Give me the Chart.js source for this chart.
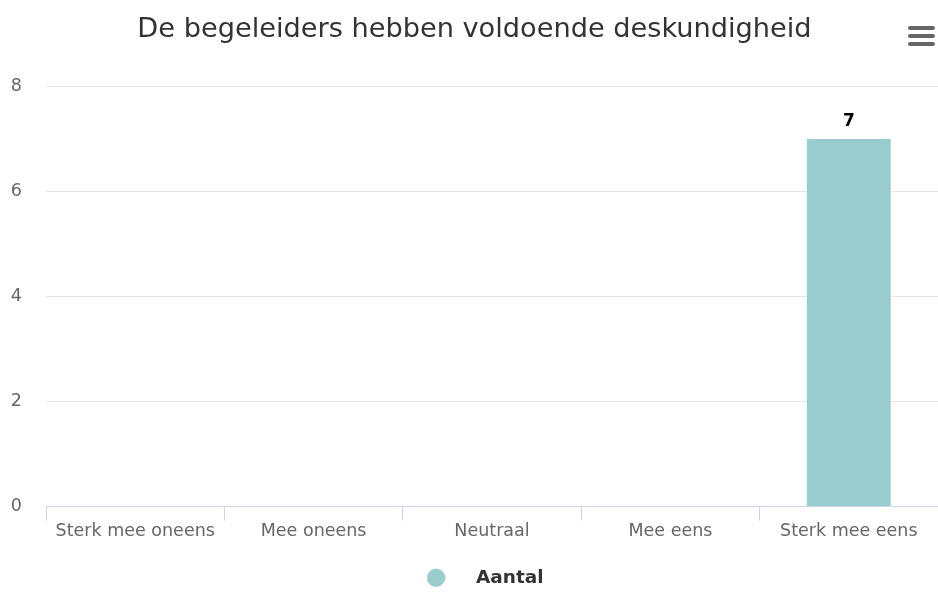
<!DOCTYPE html>
<html>
<head>
<meta charset="utf-8">
<script src="https://cdn.jsdelivr.net/npm/chart.js@4/dist/chart.umd.min.js"></script>
<style>
  body { margin: 0; background: #fff; }
  #wrap { position: relative; width: 938px; height: 597px; }
  .menu { position: absolute; left: 908px; top: 26px; width: 27px; }
  .menu span { display: block; height: 4px; margin-bottom: 4px; background: #666; border-radius: 2px; }
</style>
</head>
<body>
<div id="wrap">
  <canvas id="chart" width="938" height="597"></canvas>
  <div class="menu"><span></span><span></span><span></span></div>
</div>
<script>
var categories = ["Sterk mee oneens", "Mee oneens", "Neutraal", "Mee eens", "Sterk mee eens"];
var counts = [0, 0, 0, 0, 7];
var yTicks = [0, 2, 4, 6, 8];

var barColor = "#99cccc";
var font = "'DejaVu Sans', sans-serif";

// round legend marker, drawn on a small canvas
var dot = document.createElement("canvas");
dot.width = 19; dot.height = 19;
var dctx = dot.getContext("2d");
dctx.fillStyle = barColor;
dctx.beginPath();
dctx.arc(9.5, 9.5, 9.2, 0, Math.PI * 2);
dctx.fill();

// value labels above the bars
var valueLabels = {
  id: "valueLabels",
  afterDatasetsDraw: function(chart) {
    var ctx = chart.ctx;
    var meta = chart.getDatasetMeta(0);
    ctx.save();
    ctx.font = "bold 17px " + font;
    ctx.fillStyle = "#000";
    ctx.textAlign = "center";
    ctx.textBaseline = "bottom";
    meta.data.forEach(function(bar, i) {
      var v = chart.data.datasets[0].data[i];
      if (!v) return;
      ctx.fillText(String(v), bar.x, bar.y - 9);
    });
    ctx.restore();
  }
};

new Chart(document.getElementById("chart").getContext("2d"), {
  type: "bar",
  data: {
    labels: categories,
    datasets: [{
      label: "Aantal",
      data: counts,
      backgroundColor: barColor,
      borderWidth: 0,
      categoryPercentage: 1,
      barPercentage: 0.47
    }]
  },
  plugins: [valueLabels],
  options: {
    responsive: false,
    animation: false,
    layout: { padding: { left: 11, right: 0, top: 0, bottom: 0 } },
    plugins: {
      title: {
        display: true,
        text: "De begeleiders hebben voldoende deskundigheid",
        color: "#333333",
        font: { family: font, size: 27.2, weight: "normal" },
        padding: { top: 14, bottom: 40 }
      },
      legend: {
        position: "bottom",
        labels: {
          usePointStyle: true,
          pointStyle: dot,
          pointStyleWidth: 61.5,
          boxHeight: 17,
          color: "#333333",
          font: { family: font, size: 18.5, weight: "bold" },
          padding: 0
        }
      },
      tooltip: { enabled: false }
    },
    scales: {
      x: {
        // keep the plot flush with the edges; leave room above the legend
        afterFit: function(axis) {
          axis.paddingLeft = 0;
          axis.paddingRight = 0;
          axis.height = 62;
        },
        grid: {
          offset: true,
          drawOnChartArea: false,
          tickLength: 14,
          color: "#ccd6eb"
        },
        border: { color: "#ccd6eb" },
        ticks: {
          color: "#666666",
          font: { family: font, size: 17.5 },
          padding: 0,
          maxRotation: 0
        }
      },
      y: {
        min: 0,
        max: 8,
        afterBuildTicks: function(axis) {
          axis.ticks = yTicks.map(function(v) { return { value: v }; });
        },
        afterFit: function(axis) {
          axis.width = 35;
        },
        grid: {
          drawTicks: false,
          color: function(c) { return c.tick && c.tick.value === 0 ? "rgba(0,0,0,0)" : "#e6e6e6"; }
        },
        border: { display: false },
        ticks: {
          color: "#666666",
          font: { family: font, size: 17.5 },
          padding: 24
        }
      }
    }
  }
});
</script>
</body>
</html>
